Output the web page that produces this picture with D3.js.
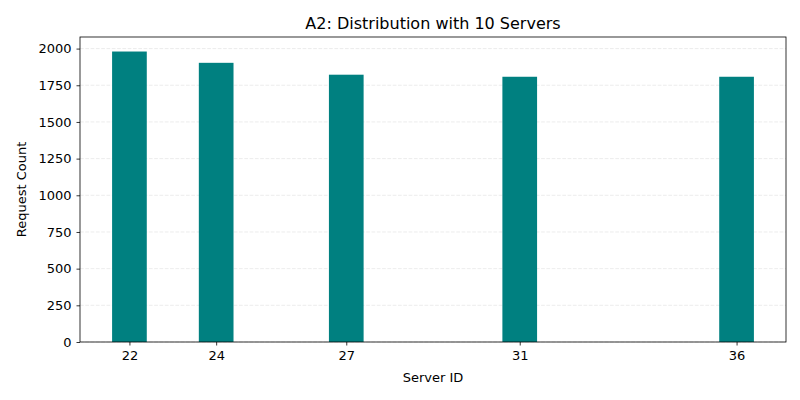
<!DOCTYPE html>
<html><head><meta charset="utf-8">
<script src="https://cdn.jsdelivr.net/npm/d3@7"></script>
<style>body{margin:0;background:#fff}svg{display:block;font-family:"DejaVu Sans",sans-serif}</style>
</head><body><svg id="c" width="800" height="400"></svg>
<script>
const serverIds = [22, 24, 27, 31, 36];
const requestCounts = [1980, 1903, 1822, 1808, 1808];
const yTicks = [0, 250, 500, 750, 1000, 1250, 1500, 1750, 2000];
const title = "A2: Distribution with 10 Servers";
const xLabel = "Server ID";
const yLabel = "Request Count";

const svg = d3.select("#c");
const m = {l: 80, r: 786, t: 37, b: 342};
const barW = 0.8;
const lo = d3.min(serverIds) - barW/2, hi = d3.max(serverIds) + barW/2;
const pad = (hi - lo) * 0.05;
const x = d3.scaleLinear().domain([lo - pad, hi + pad]).range([m.l, m.r]);
const y = d3.scaleLinear().domain([0, d3.max(requestCounts) * 1.05]).range([m.b, m.t]);

// grid
svg.append("g").selectAll("line").data(yTicks).join("line")
  .attr("x1", m.l).attr("x2", m.r)
  .attr("y1", d => y(d)).attr("y2", d => y(d))
  .attr("stroke", "#b0b0b0").attr("stroke-opacity", 0.3)
  .attr("stroke-dasharray", "3.7,1.6").attr("stroke-width", 0.8);

// bars
svg.append("g").selectAll("rect").data(serverIds).join("rect")
  .attr("x", d => x(d - barW/2))
  .attr("width", d => x(d + barW/2) - x(d - barW/2))
  .attr("y", (d, i) => y(requestCounts[i]))
  .attr("height", (d, i) => y(0) - y(requestCounts[i]))
  .attr("fill", "#008080");

// axes
const xa = svg.append("g").attr("transform", `translate(0,${m.b})`)
  .call(d3.axisBottom(x).tickValues(serverIds).tickFormat(d3.format("d")).tickSize(3.5).tickPadding(5));
const ya = svg.append("g").attr("transform", `translate(${m.l},0)`)
  .call(d3.axisLeft(y).tickValues(yTicks).tickFormat(d3.format("d")).tickSize(3.5).tickPadding(5));
[xa, ya].forEach(a => {
  a.selectAll("text").attr("font-size", "13px").attr("fill", "#000").attr("font-family", "DejaVu Sans");
  a.selectAll("line").attr("stroke", "#000").attr("stroke-width", 0.8);
  a.select(".domain").remove();
});
// frame
svg.append("rect").attr("x", m.l).attr("y", m.t).attr("width", m.r - m.l).attr("height", m.b - m.t)
  .attr("fill", "none").attr("stroke", "#000").attr("stroke-width", 0.8);

svg.append("text").attr("x", (m.l + m.r)/2).attr("y", 29).attr("text-anchor", "middle")
  .attr("font-size", "16px").text(title);
svg.append("text").attr("x", (m.l + m.r)/2).attr("y", 382).attr("text-anchor", "middle")
  .attr("font-size", "13px").text(xLabel);
svg.append("text").attr("transform", `translate(26,${(m.t + m.b)/2}) rotate(-90)`).attr("text-anchor", "middle")
  .attr("font-size", "13px").text(yLabel);
</script></body></html>
